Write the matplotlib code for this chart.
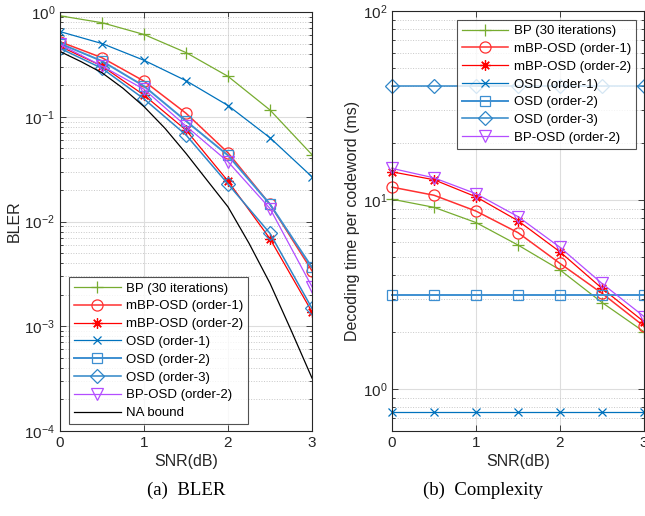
import numpy as np
import matplotlib
matplotlib.use('Agg')
import matplotlib.pyplot as plt
from matplotlib.ticker import LogLocator, NullFormatter

plt.rcParams['font.family'] = ['Liberation Sans', 'DejaVu Sans']
plt.rcParams['mathtext.fontset'] = 'custom'
plt.rcParams['mathtext.rm'] = 'Liberation Sans'

snr = [0, 0.5, 1, 1.5, 2, 2.5, 3]

# BLER (left)
bler_bp = [0.92, 0.79, 0.61, 0.41, 0.243, 0.116, 0.0434]
bler_mbp1 = [0.52, 0.366, 0.219, 0.108, 0.0453, 0.0146, 0.00338]
bler_mbp2 = [0.47, 0.305, 0.161, 0.0746, 0.0243, 0.00684, 0.00137]
bler_osd1 = [0.65, 0.50, 0.346, 0.221, 0.128, 0.063, 0.0267]
bler_osd2 = [0.50, 0.34, 0.196, 0.091, 0.0428, 0.0146, 0.00364]
bler_osd3 = [0.45, 0.29, 0.148, 0.067, 0.0228, 0.0077, 0.00148]
bler_bposd2 = [0.49, 0.305, 0.183, 0.0815, 0.0372, 0.0133, 0.00238]

snr_na = [0, 0.25, 0.5, 0.75, 1, 1.25, 1.5, 1.75, 2, 2.25, 2.5, 2.75, 3]
bler_na = [0.42, 0.336, 0.263, 0.187, 0.125, 0.0775, 0.0447, 0.0248,
           0.0138, 0.0062, 0.00257, 0.00092, 0.00032]

# decoding time in ms (right)
t_bp = [10.1, 9.15, 7.6, 5.78, 4.27, 2.87, 2.01]
t_mbp1 = [11.7, 10.6, 8.74, 6.72, 4.62, 3.21, 2.15]
t_mbp2 = [14.1, 12.8, 10.4, 7.77, 5.32, 3.41, 2.27]
t_osd1 = [0.755] * 7
t_osd2 = [3.15] * 7
t_osd3 = [40.1] * 7
t_bposd2 = [14.7, 13.1, 10.8, 8.17, 5.62, 3.62, 2.42]

labels = ['BP (30 iterations)', 'mBP-OSD (order-1)', 'mBP-OSD (order-2)',
          'OSD (order-1)', 'OSD (order-2)', 'OSD (order-3)', 'BP-OSD (order-2)']

c_green = '#77AC30'
c_red = '#FF0000'
c_red2 = '#FF3030'
c_blue = '#0072BD'
c_blue2 = '#3D8FD1'
c_blue3 = '#2F86C8'
c_purple = '#B34DFF'

styles = [
    dict(color=c_green, marker='+', ms=8, lw=0.9),
    dict(color=c_red2, marker='o', ms=8, lw=1.1),
    dict(color=c_red, marker=(8, 2, 0), ms=7.5, lw=0.9),
    dict(color=c_blue, marker='x', ms=6, lw=0.9),
    dict(color=c_blue2, marker='s', ms=7, lw=1.4),
    dict(color=c_blue3, marker='D', ms=7, lw=1.1),
    dict(color=c_purple, marker='v', ms=8, lw=0.9),
]


def style_axes(ax, ylims):
    ax.set_yscale('log')
    ax.set_xlim(0, 3)
    ax.set_ylim(*ylims)
    ax.set_xticks([0, 1, 2, 3])
    ax.yaxis.set_major_locator(LogLocator(base=10, numticks=10))
    ax.yaxis.set_minor_locator(LogLocator(base=10, subs=np.arange(2, 10), numticks=20))
    ax.yaxis.set_minor_formatter(NullFormatter())
    ax.tick_params(which='both', direction='in', top=True, right=True,
                   labelsize=11, colors='#262626', width=0.6)
    ax.tick_params(which='major', length=4)
    ax.tick_params(which='minor', length=2)
    ax.grid(True, which='major', color='#dddddd', lw=0.8, ls='-')
    ax.grid(True, which='minor', axis='y', color='#c8c8c8', lw=0.7, ls=':')
    ax.set_axisbelow(True)
    for s in ax.spines.values():
        s.set_color('#262626')
        s.set_linewidth(0.8)
    ax.set_xlabel('SNR(dB)', fontsize=11.5, color='#262626', labelpad=3)


fig = plt.figure(figsize=(6.45, 5.16), dpi=100)
ax1 = fig.add_axes([60 / 645, 1 - 431 / 516, 252 / 645, 419 / 516])
ax2 = fig.add_axes([392 / 645, 1 - 431 / 516, 252 / 645, 420 / 516])

bler_all = [bler_bp, bler_mbp1, bler_mbp2, bler_osd1, bler_osd2, bler_osd3, bler_bposd2]
for vals, lab, st in zip(bler_all, labels, styles):
    ax1.plot(snr, vals, label=lab, mfc='none', mew=0.9, **st)
ax1.plot(snr_na, bler_na, color='black', lw=0.9, label='NA bound')
style_axes(ax1, (1e-4, 1))
ax1.set_ylabel('BLER', fontsize=11.5, color='#262626', labelpad=2)
leg1 = ax1.legend(loc='lower left', fontsize=9.5, frameon=True, fancybox=False,
                  edgecolor='#262626', handlelength=3.5, borderpad=0.4,
                  labelspacing=0.42, handletextpad=0.4, bbox_to_anchor=(0.01, 0.0))
leg1.get_frame().set_linewidth(0.8)

time_all = [t_bp, t_mbp1, t_mbp2, t_osd1, t_osd2, t_osd3, t_bposd2]
for vals, lab, st in zip(time_all, labels, styles):
    ax2.plot(snr, vals, label=lab, mfc='none', mew=0.9, clip_on=False, **st)
style_axes(ax2, (0.6, 100))
ax2.set_ylabel('Decoding time per codeword (ms)', fontsize=11.5, color='#262626', labelpad=2)
leg2 = ax2.legend(loc='upper right', fontsize=9.5, frameon=True, fancybox=False,
                  edgecolor='#262626', handlelength=3.5, borderpad=0.4,
                  labelspacing=0.42, handletextpad=0.4, bbox_to_anchor=(0.995, 0.995))
leg2.get_frame().set_linewidth(0.8)
leg2.set_zorder(5)

fig.text(186 / 645, 1 - 490 / 516, '(a)  BLER', ha='center', va='center',
         fontsize=13.5, family=['Liberation Serif', 'DejaVu Serif'])
fig.text(483 / 645, 1 - 490 / 516, '(b)  Complexity', ha='center', va='center',
         fontsize=13.5, family=['Liberation Serif', 'DejaVu Serif'])

fig.savefig('out.png', dpi=100)
